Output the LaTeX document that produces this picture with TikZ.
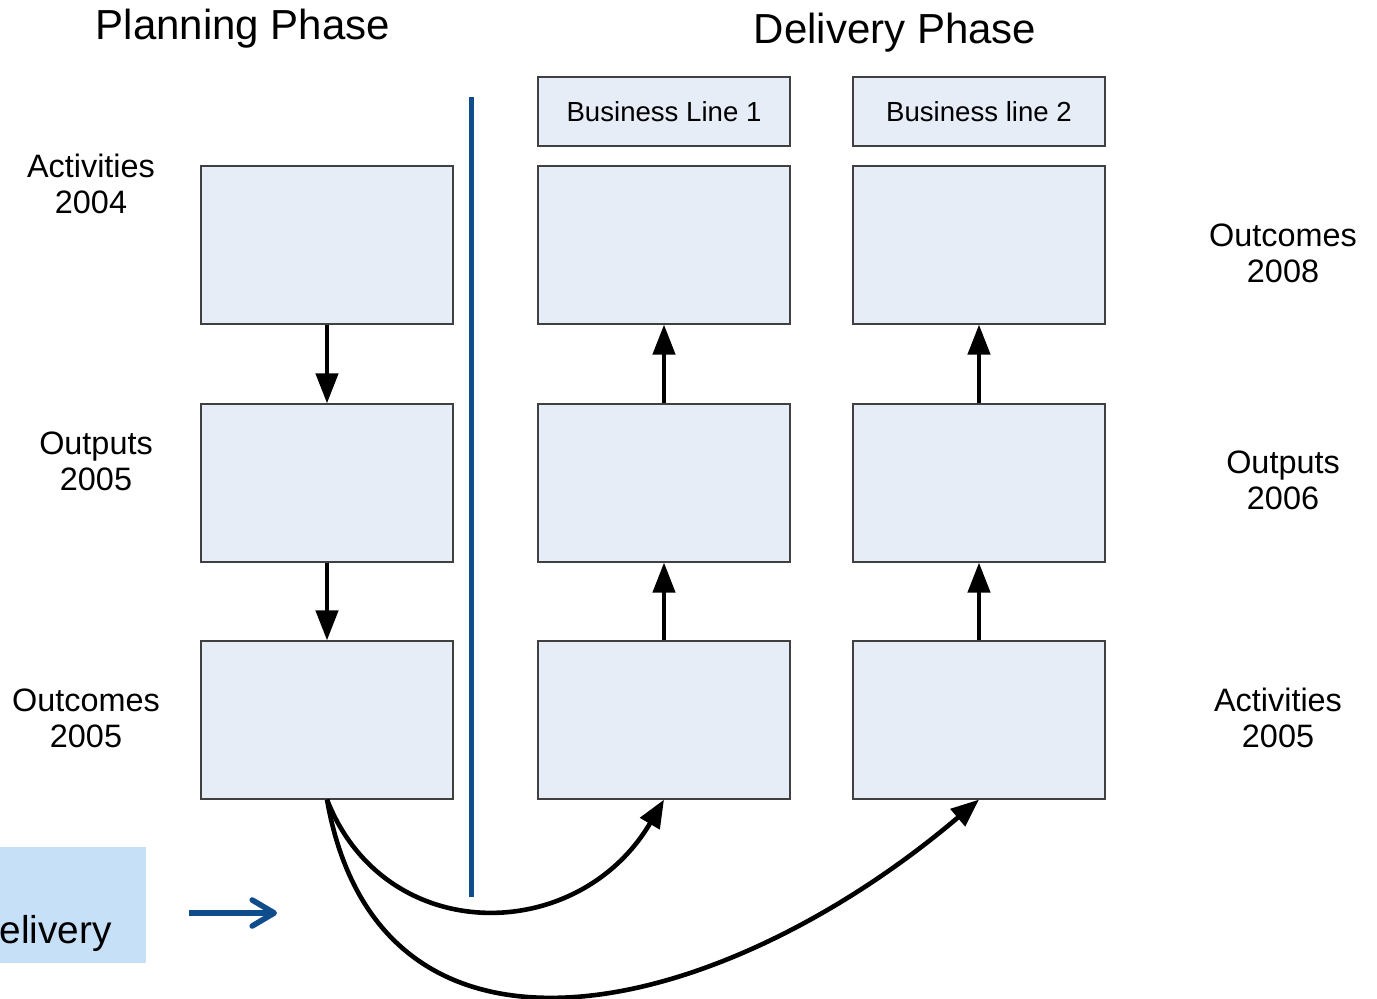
\documentclass[tikz,border=0pt]{standalone}
\usepackage{fontspec}
\setmainfont{Liberation Sans}
\usetikzlibrary{arrows.meta}
\definecolor{boxfill}{HTML}{E6EDF7}
\definecolor{boxline}{HTML}{404040}
\definecolor{divider}{HTML}{0F4C8C}
\definecolor{tabfill}{HTML}{C6E0F8}
\begin{document}
\begin{tikzpicture}[x=0.5pt,y=-0.5pt,
  cell/.style={draw=boxline,fill=boxfill,line width=0.6pt,inner sep=0pt,
    minimum width=126pt,minimum height=79pt},
  header/.style={draw=boxline,fill=boxfill,line width=0.6pt,inner sep=0pt,
    minimum width=126pt,minimum height=34.5pt,font=\fontsize{13.8}{16}\selectfont},
  phase/.style={font=\fontsize{21}{25}\selectfont},
  rowlabel/.style={align=center,font=\fontsize{16.2}{18}\selectfont},
  flow/.style={line width=2.2pt,-{Triangle[length=15pt,width=11pt]}},
  jump/.style={line width=2.3pt,-{Triangle[length=14pt,width=11pt]}}]
\useasboundingbox (0,0) rectangle (1377,999);
\clip (0,0) rectangle (1377,999);

% phase titles
\node[phase] (tplan) at (243,29) {Planning Phase};
\node[phase] (tdel) at (895,33) {Delivery Phase};

% divider between the phases
\coordinate (dtop) at (471,97);
\coordinate (dbot) at (471,897);
\draw[divider,line width=2.5pt] (dtop) -- (dbot);

% business line headers
\node[header] (h1) at (664,111.5) {Business Line 1};
\node[header] (h2) at (979,111.5) {Business line 2};

% planning column
\node[cell] (p1) at (327,245) {};
\node[cell] (p2) at (327,483) {};
\node[cell] (p3) at (327,720) {};
% delivery columns
\node[cell] (a1) at (664,245) {};
\node[cell] (a2) at (664,483) {};
\node[cell] (a3) at (664,720) {};
\node[cell] (b1) at (979,245) {};
\node[cell] (b2) at (979,483) {};
\node[cell] (b3) at (979,720) {};

% row labels
\node[rowlabel] (l1) at (91,184) {Activities\\2004};
\node[rowlabel] (l2) at (96,461) {Outputs\\2005};
\node[rowlabel] (l3) at (86,718) {Outcomes\\2005};
\node[rowlabel] (r1) at (1283,253) {Outcomes\\2008};
\node[rowlabel] (r2) at (1283,480) {Outputs\\2006};
\node[rowlabel] (r3) at (1278,718) {Activities\\2005};

% vertical flows
\draw[flow] (p1.south) -- (p2.north);
\draw[flow] (p2.south) -- (p3.north);
\draw[flow] (a3.north) -- (a2.south);
\draw[flow] (a2.north) -- (a1.south);
\draw[flow] (b3.north) -- (b2.south);
\draw[flow] (b2.north) -- (b1.south);

% hand-over from planning outcomes to delivery activities
\draw[jump] (p3.south) .. controls +(58,148) and +(-86,146) .. (a3.south);
\draw[jump] (p3.south) .. controls +(53,301) and +(-259,220) .. (b3.south);

% side tab with pointer
\node[fill=tabfill,minimum width=73pt,minimum height=58pt,inner sep=0pt] (tab) at (73,905) {};
\node[anchor=base east,inner sep=0pt,font=\fontsize{19.4}{23}\selectfont] (tabtext) at (112,943) {Delivery};
\coordinate (ps) at (189,913);
\coordinate (pe) at (277,913);
\draw[divider,line width=2.8pt,-{Straight Barb[length=11pt,width=13pt,round]}] (ps) -- (pe);
\end{tikzpicture}
\end{document}
